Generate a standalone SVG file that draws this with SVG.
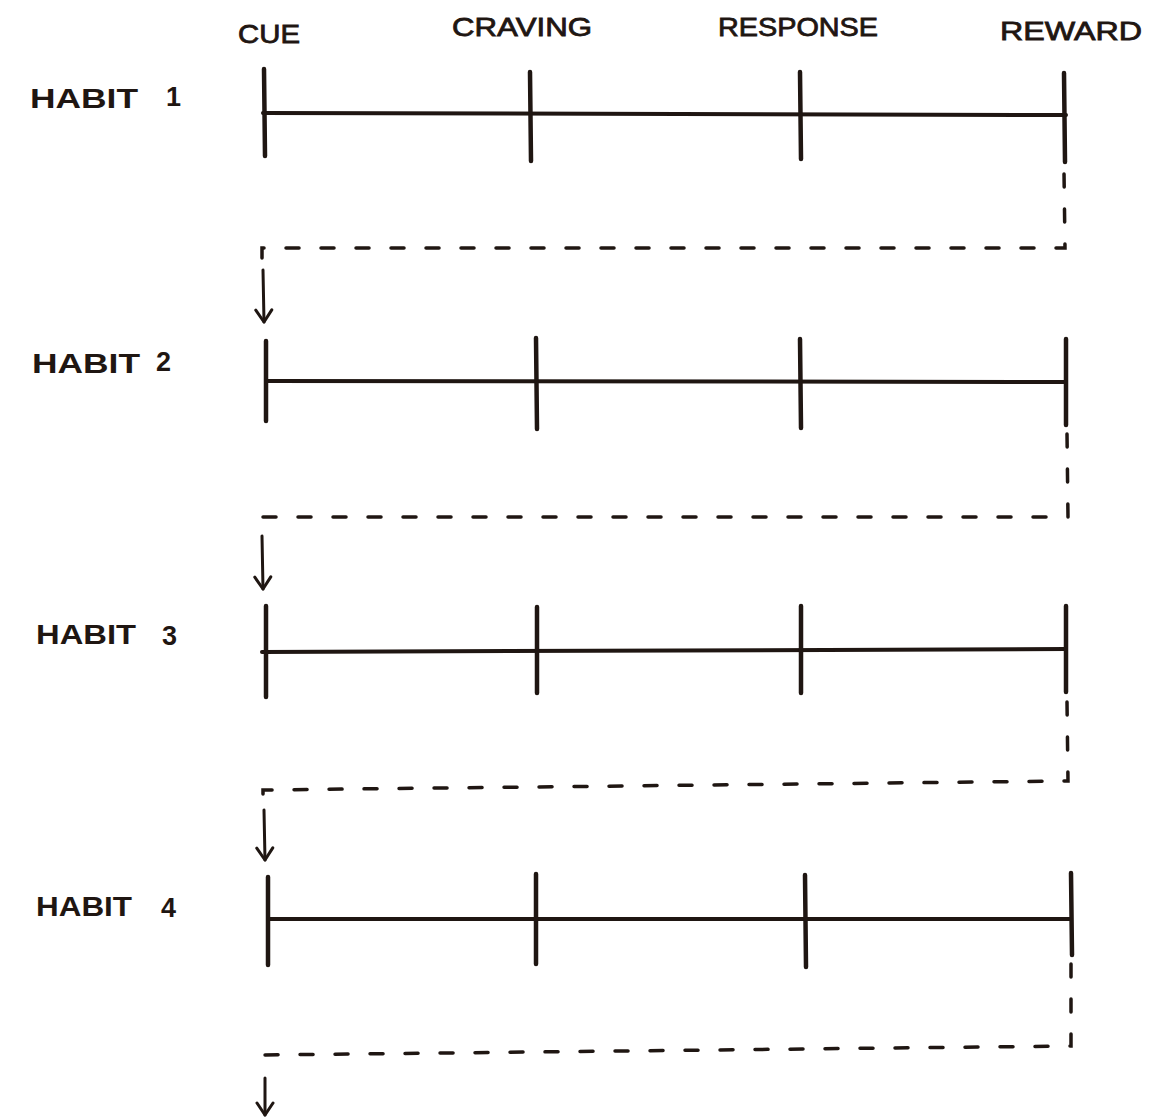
<svg xmlns="http://www.w3.org/2000/svg" width="1170" height="1119" viewBox="0 0 1170 1119">
<style>
.bg{fill:#ffffff}
.ln{stroke:#1f1612;stroke-width:4;stroke-linecap:round;fill:none}
.tk{stroke:#1f1612;stroke-width:4.5;stroke-linecap:round;fill:none}
.ar{stroke:#1f1612;stroke-width:3;stroke-linecap:round;fill:none}
.dash{stroke:#1f1612;stroke-width:3.5;fill:none;stroke-dasharray:13 22;stroke-linecap:round}
.lbl{font-family:"Liberation Sans",Arial,sans-serif;font-size:27px;fill:#1f1612;font-weight:bold}
.hd{font-family:"Liberation Sans",Arial,sans-serif;font-size:26px;fill:#1f1612;stroke:#1f1612;stroke-width:0.8}
</style>
<defs>
<marker id="arr" viewBox="0 0 20 20" refX="18" refY="10" markerWidth="20" markerHeight="20" markerUnits="userSpaceOnUse" orient="auto">
<polyline points="6,2 18,10 6,18" fill="none" stroke="#1f1612" stroke-width="3" stroke-linecap="round" stroke-linejoin="round"/>
</marker>
</defs>
<rect class="bg" x="0" y="0" width="1170" height="1119"/>
<g id="headers">
<text class="hd" x="238" y="43" textLength="62" lengthAdjust="spacingAndGlyphs">CUE</text>
<text class="hd" x="452" y="36" textLength="140" lengthAdjust="spacingAndGlyphs">CRAVING</text>
<text class="hd" x="718" y="36" textLength="160" lengthAdjust="spacingAndGlyphs">RESPONSE</text>
<text class="hd" x="1000" y="40" textLength="142" lengthAdjust="spacingAndGlyphs">REWARD</text>
</g>
<g id="habit1">
<text class="lbl" x="30" y="108" textLength="108" lengthAdjust="spacingAndGlyphs">HABIT</text>
<text class="lbl" x="166" y="106">1</text>
<line class="ln" x1="263" y1="113" x2="1066" y2="115"/>
<line class="tk" x1="264" y1="69" x2="265" y2="156"/>
<line class="tk" x1="530" y1="72" x2="531" y2="161"/>
<line class="tk" x1="800" y1="72" x2="801" y2="159"/>
<line class="tk" x1="1064" y1="73" x2="1065" y2="162"/>
</g>
<g id="habit2">
<text class="lbl" x="32" y="373" textLength="108" lengthAdjust="spacingAndGlyphs">HABIT</text>
<text class="lbl" x="156" y="371">2</text>
<line class="ln" x1="266" y1="381" x2="1066" y2="382"/>
<line class="tk" x1="266" y1="341" x2="266" y2="421"/>
<line class="tk" x1="536" y1="338" x2="537" y2="429"/>
<line class="tk" x1="800" y1="339" x2="801" y2="428"/>
<line class="tk" x1="1066" y1="339" x2="1066" y2="425"/>
</g>
<g id="habit3">
<text class="lbl" x="36" y="644" textLength="100" lengthAdjust="spacingAndGlyphs">HABIT</text>
<text class="lbl" x="162" y="645">3</text>
<line class="ln" x1="262" y1="652" x2="1066" y2="649"/>
<line class="tk" x1="266" y1="606" x2="266" y2="697"/>
<line class="tk" x1="537" y1="607" x2="537" y2="693"/>
<line class="tk" x1="801" y1="606" x2="801" y2="693"/>
<line class="tk" x1="1066" y1="606" x2="1066" y2="692"/>
</g>
<g id="habit4">
<text class="lbl" x="36" y="916" textLength="96" lengthAdjust="spacingAndGlyphs">HABIT</text>
<text class="lbl" x="161" y="917">4</text>
<line class="ln" x1="268" y1="919" x2="1071" y2="919"/>
<line class="tk" x1="268" y1="877" x2="268" y2="965"/>
<line class="tk" x1="536" y1="874" x2="536" y2="964"/>
<line class="tk" x1="805" y1="875" x2="806" y2="967"/>
<line class="tk" x1="1071" y1="873" x2="1072" y2="955"/>
</g>
<g id="connectors">
<polyline class="dash" points="1064,172 1065,248 262,248 262,258" style="stroke-dashoffset:-2"/>
<line class="ar" x1="263" y1="270" x2="264" y2="322" marker-end="url(#arr)"/>
<polyline class="dash" points="1067,434 1068,517 262,517 262,527"/>
<line class="ar" x1="262" y1="536" x2="263" y2="589" marker-end="url(#arr)"/>
<polyline class="dash" points="1067,702 1068,781 263,790 263,800"/>
<line class="ar" x1="264" y1="810" x2="265" y2="860" marker-end="url(#arr)"/>
<polyline class="dash" points="1071,964 1071,1046 263,1055 263,1068"/>
<line class="ar" x1="265" y1="1078" x2="265" y2="1115" marker-end="url(#arr)"/>
</g>
</svg>
